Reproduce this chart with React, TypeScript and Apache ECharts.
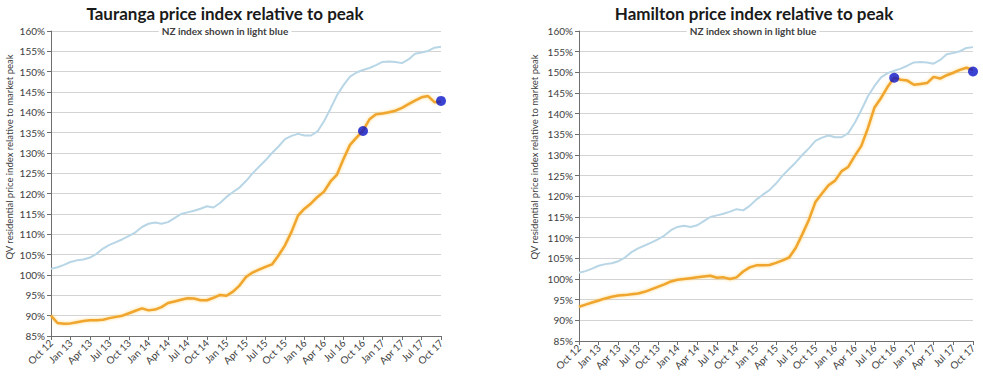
import React, { useEffect, useRef } from "react";
import * as echarts from "echarts";

const monthNames = ["Jan", "Feb", "Mar", "Apr", "May", "Jun", "Jul", "Aug", "Sep", "Oct", "Nov", "Dec"];
// Oct 2012 .. Oct 2017, monthly
const categories: string[] = [];
for (let i = 0; i <= 60; i++) {
  const mi = (9 + i) % 12;
  const yr = 12 + Math.floor((9 + i) / 12);
  categories.push(monthNames[mi] + " " + yr);
}

const nzIndex = [
  101.5, 101.9, 102.5, 103.2, 103.6, 103.8, 104.3, 105.2, 106.5, 107.4,
  108.1, 108.8, 109.6, 110.5, 111.8, 112.6, 112.9, 112.6, 113.0, 114.0,
  115.0, 115.4, 115.8, 116.3, 116.9, 116.6, 117.7, 119.2, 120.4, 121.5,
  123.1, 125.0, 126.6, 128.2, 130.0, 131.6, 133.4, 134.2, 134.7, 134.3,
  134.3, 135.3, 137.8, 140.9, 144.2, 146.7, 148.8, 149.8, 150.4, 150.9,
  151.6, 152.4, 152.5, 152.4, 152.1, 153.0, 154.4, 154.7, 155.1, 155.9,
  156.1,
];

const taurangaIndex = [
  90.0, 88.2, 88.0, 88.1, 88.4, 88.7, 88.9, 88.9, 89.0, 89.4,
  89.7, 90.0, 90.6, 91.2, 91.8, 91.3, 91.5, 92.1, 93.1, 93.5,
  93.9, 94.3, 94.2, 93.8, 93.8, 94.4, 95.1, 94.9, 95.9, 97.4,
  99.5, 100.6, 101.3, 102.0, 102.6, 104.8, 107.3, 110.6, 114.6, 116.3,
  117.6, 119.2, 120.5, 123.0, 124.7, 128.5, 132.0, 133.8, 135.5, 138.3,
  139.5, 139.7, 140.0, 140.4, 141.1, 142.0, 142.9, 143.7, 144.0, 142.5,
  142.6,
];

const hamiltonIndex = [
  93.3, 93.8, 94.3, 94.8, 95.3, 95.7, 96.0, 96.1, 96.3, 96.5,
  96.9, 97.5, 98.1, 98.7, 99.4, 99.8, 100.0, 100.2, 100.4, 100.6,
  100.8, 100.3, 100.4, 100.0, 100.4, 101.8, 102.8, 103.3, 103.3, 103.4,
  103.9, 104.5, 105.2, 107.5, 110.8, 114.3, 118.6, 120.7, 122.7, 123.8,
  126.1, 127.1, 129.8, 132.2, 136.5, 141.5, 143.8, 146.5, 148.7, 148.2,
  148.0, 147.0, 147.2, 147.4, 148.9, 148.5, 149.3, 149.9, 150.6, 151.1,
  150.6,
];

const taurangaMarkers: [string, number][] = [["Oct 16", 135.4], ["Oct 17", 142.8]];
const hamiltonMarkers: [string, number][] = [["Oct 16", 148.7], ["Oct 17", 150.2]];

const yTicks = { min: 85, max: 160, interval: 5 };

const FONT = "Lato, 'Open Sans', sans-serif";
const NZ_COLOR = "#b8d6e6";
const CITY_COLOR = "#f0a52e";
const MARKER_COLOR = "#0a14c8";

function axisPair(gridIndex: number) {
  return {
    x: {
      type: "category",
      gridIndex,
      data: categories,
      boundaryGap: false,
      axisLine: { show: true, lineStyle: { color: "#6e6e6e", width: 1 } },
      axisTick: { show: true, interval: (i: number) => i % 3 === 0, length: 4, lineStyle: { color: "#6e6e6e" } },
      axisLabel: {
        interval: (i: number) => i % 3 === 0,
        rotate: 45,
        fontFamily: FONT,
        fontSize: 10,
        color: "#404040",
        margin: 5,
      },
      splitLine: { show: false },
    },
    y: {
      type: "value",
      gridIndex,
      min: yTicks.min,
      max: yTicks.max,
      interval: yTicks.interval,
      axisLine: { show: true, lineStyle: { color: "#6e6e6e", width: 1 } },
      axisTick: { show: true, length: 4, lineStyle: { color: "#6e6e6e" } },
      axisLabel: { formatter: "{value}%", fontFamily: FONT, fontSize: 10, color: "#404040", margin: 6 },
      splitLine: { show: true, lineStyle: { color: "#d4d4d4", width: 1 } },
    },
  };
}

export default function App() {
  const ref = useRef<HTMLDivElement>(null);
  useEffect(() => {
    document.body.style.margin = "0";
    if (!ref.current) return;
    const chart = echarts.init(ref.current, undefined, { renderer: "svg" });
    const a0 = axisPair(0);
    const a1 = axisPair(1);
    const lineSeries = (name: string, data: number[], idx: number, color: string, width: number, glow: boolean) => ({
      type: "line",
      name,
      xAxisIndex: idx,
      yAxisIndex: idx,
      data,
      showSymbol: false,
      symbol: "none",
      smooth: false,
      lineStyle: glow
        ? { color, width, shadowColor: "rgba(255,205,90,0.8)", shadowBlur: 3 }
        : { color, width },
      z: glow ? 3 : 2,
    });
    const markerSeries = (data: [string, number][], idx: number) => ({
      type: "scatter",
      xAxisIndex: idx,
      yAxisIndex: idx,
      data,
      symbol: "circle",
      symbolSize: 10,
      itemStyle: { color: MARKER_COLOR },
      z: 5,
    });
    const titleText = (text: string, x: number) => ({
      type: "text",
      x,
      y: 13,
      z: 10,
      style: { text, font: `bold 17px ${FONT}`, fill: "#1a1a1a", align: "center", verticalAlign: "middle" },
    });
    const subText = (x: number) => ({
      type: "text",
      x,
      y: 31,
      z: 10,
      style: {
        text: "NZ index shown in light blue",
        font: `bold 10px ${FONT}`,
        fill: "#404040",
        align: "center",
        verticalAlign: "middle",
        backgroundColor: "#ffffff",
        padding: [1, 3],
      },
    });
    const yName = (x: number) => ({
      type: "text",
      x,
      y: 157,
      rotation: Math.PI / 2,
      z: 10,
      style: {
        text: "QV residential price index relative to market peak",
        font: `9.5px ${FONT}`,
        fill: "#404040",
        align: "center",
        verticalAlign: "middle",
      },
    });
    chart.setOption({
      animation: false,
      backgroundColor: "#ffffff",
      grid: [
        { left: 51, top: 31, width: 390, height: 305, containLabel: false },
        { left: 579, top: 31, width: 394, height: 310, containLabel: false },
      ],
      xAxis: [a0.x, a1.x],
      yAxis: [a0.y, a1.y],
      series: [
        lineSeries("NZ", nzIndex, 0, NZ_COLOR, 2, false),
        lineSeries("Tauranga", taurangaIndex, 0, CITY_COLOR, 2.5, true),
        markerSeries(taurangaMarkers, 0),
        lineSeries("NZ", nzIndex, 1, NZ_COLOR, 2, false),
        lineSeries("Hamilton", hamiltonIndex, 1, CITY_COLOR, 2.5, true),
        markerSeries(hamiltonMarkers, 1),
      ],
      graphic: [
        titleText("Tauranga price index relative to peak", 225),
        subText(225),
        yName(9),
        titleText("Hamilton price index relative to peak", 754),
        subText(753),
        yName(534),
      ],
    });
    return () => chart.dispose();
  }, []);
  return <div ref={ref} style={{ position: "absolute", left: 0, top: 0, width: 983, height: 382 }} />;
}
